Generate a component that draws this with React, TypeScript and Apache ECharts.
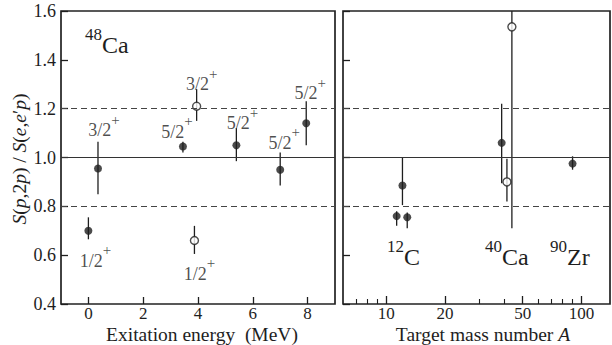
import React, { useEffect, useRef } from "react";
import * as echarts from "echarts";

// ---- axis ticks ----
const yTicks = [0.4, 0.6, 0.8, 1.0, 1.2, 1.4, 1.6];
const energyTicks = [0, 2, 4, 6, 8];
const massMajorTicks = [10, 20, 50, 100];
const massMinorTicks = [7, 8, 9, 30, 40, 60, 70, 80, 90];
const refLines = [1.0, 1.2, 0.8];

// ---- left panel: 48Ca, vs excitation energy (MeV) ----
const leftFilledE = [0, 0.35, 3.45, 5.4, 7.0, 7.95];
const leftFilledS = [0.7, 0.955, 1.045, 1.05, 0.95, 1.14];
const leftFilledLo = [0.665, 0.85, 1.02, 0.985, 0.885, 1.05];
const leftFilledHi = [0.755, 1.065, 1.065, 1.12, 1.02, 1.23];
const leftFilledJ = ["1/2", "3/2", "5/2", "5/2", "5/2", "5/2"];

const leftOpenE = [3.95, 3.87];
const leftOpenS = [1.21, 0.66];
const leftOpenLo = [1.15, 0.605];
const leftOpenHi = [1.28, 0.72];
const leftOpenJ = ["3/2", "1/2"];

// ---- right panel: vs target mass number A ----
const rightFilledA = [11.3, 12.1, 12.8, 39, 90];
const rightFilledS = [0.76, 0.885, 0.755, 1.06, 0.975];
const rightFilledLo = [0.72, 0.805, 0.71, 0.895, 0.95];
const rightFilledHi = [0.78, 1.0, 0.775, 1.22, 1.005];

const rightOpenA = [41.5, 44];
const rightOpenS = [0.9, 1.535];
const rightOpenLo = [0.82, 0.71];
const rightOpenHi = [0.995, 1.75];

const nuclei = [
  { mass: "48", el: "Ca" },
  { mass: "12", el: "C" },
  { mass: "40", el: "Ca" },
  { mass: "90", el: "Zr" },
];

const Y_MIN = 0.4;
const Y_MAX = 1.6;
const FONT = "'Liberation Serif', 'DejaVu Serif', serif";
const INK = "#1e1e1e";

export default function App() {
  const ref = useRef<HTMLDivElement>(null);

  useEffect(() => {
    if (!ref.current) return;
    const chart = echarts.init(ref.current, undefined, { renderer: "svg" });

    const errRender = (_p: any, api: any) => {
      const x = api.value(0);
      const lo = Math.max(api.value(1), Y_MIN);
      const hi = Math.min(api.value(2), Y_MAX);
      const a = api.coord([x, lo]);
      const b = api.coord([x, hi]);
      return {
        type: "line",
        shape: { x1: a[0], y1: a[1], x2: b[0], y2: b[1] },
        style: { stroke: INK, lineWidth: 1.3 },
      };
    };

    const supRich = {
      a: { fontSize: 18, fontFamily: FONT, color: INK, lineHeight: 36 },
      s: { fontSize: 15, fontFamily: FONT, color: INK, lineHeight: 15, verticalAlign: "top" },
    };

    // label offsets (layout), in order of the data arrays
    const filledOffsets = [
      [7, 30],
      [6, -38],
      [-6, -15],
      [6, -22],
      [4, -27],
      [4, -30],
    ];
    const openOffsets = [
      [5, -22],
      [5, 33],
    ];

    const mkLabeled = (xs: number[], ys: number[], js: string[], offs: number[][]) =>
      xs.map((x, i) => ({
        value: [x, ys[i]],
        label: {
          show: true,
          position: "inside",
          offset: offs[i],
          color: INK,
          fontFamily: FONT,
          textBorderWidth: 0,
          formatter: `{a|${js[i]}}{s|+}`,
          rich: supRich,
        },
      }));

    const markLine = {
      silent: true,
      symbol: "none",
      label: { show: false },
      data: refLines.map((v) => ({
        yAxis: v,
        lineStyle: {
          type: v === 1.0 ? "solid" : [6, 4],
          color: v === 1.0 ? "#333" : "#444",
          width: 1,
        },
      })),
    };

    const baseAxisLabel = { fontSize: 18, fontFamily: FONT, color: INK };

    const yAxisBase = (gi: number, showLabel: boolean) => ({
      gridIndex: gi,
      type: "value",
      min: Y_MIN,
      max: Y_MAX,
      interval: 0.2,
      axisLine: { show: false, onZero: false },
      axisTick: { show: true, inside: true, length: 7, lineStyle: { color: INK, width: 1.3 } },
      axisLabel: {
        ...baseAxisLabel,
        show: showLabel,
        margin: 5,
        lineHeight: 16,
        customValues: yTicks,
        formatter: (v: number) => v.toFixed(1),
      },
      splitLine: { show: false },
    });

    const nucleusText = (i: number, x: number, y: number) => ({
      type: "text",
      x,
      y,
      style: {
        text: `{s|${nuclei[i].mass}}{m|${nuclei[i].el}}`,
        align: "left",
        verticalAlign: "middle",
        rich: {
          s: { fontSize: 17, fontFamily: FONT, fill: INK, lineHeight: 17, verticalAlign: "top" },
          m: { fontSize: 24, fontFamily: FONT, fill: INK, lineHeight: 38 },
        },
      },
    });

    const xLabel = { ...baseAxisLabel, fontSize: 17, margin: 2, lineHeight: 14 };

    const option: any = {
      animation: false,
      backgroundColor: "#fff",
      grid: [
        { left: 61, top: 11, width: 274, height: 293, show: true, borderColor: "#222", borderWidth: 1.7 },
        { left: 343, top: 11, width: 267, height: 293, show: true, borderColor: "#222", borderWidth: 1.7 },
      ],
      xAxis: [
        {
          gridIndex: 0,
          type: "value",
          min: -1,
          max: 9,
          axisLine: { show: false, onZero: false },
          axisTick: { show: true, inside: true, length: 7, customValues: energyTicks, lineStyle: { color: INK, width: 1.3 } },
          axisLabel: { ...xLabel, customValues: energyTicks },
          splitLine: { show: false },
        },
        {
          gridIndex: 1,
          type: "log",
          logBase: 10,
          min: 6,
          max: 140,
          axisLine: { show: false, onZero: false },
          axisTick: { show: true, inside: true, length: 8, customValues: massMajorTicks, lineStyle: { color: INK, width: 1.3 } },
          axisLabel: { ...xLabel, customValues: massMajorTicks },
          splitLine: { show: false },
        },
        {
          gridIndex: 1,
          type: "log",
          logBase: 10,
          min: 6,
          max: 140,
          position: "bottom",
          axisLine: { show: false, onZero: false },
          axisTick: { show: true, inside: true, length: 5, customValues: massMinorTicks, lineStyle: { color: INK, width: 1.1 } },
          axisLabel: { show: false },
          splitLine: { show: false },
        },
      ],
      yAxis: [yAxisBase(0, true), yAxisBase(1, false)],
      series: [
        {
          type: "custom",
          xAxisIndex: 0,
          yAxisIndex: 0,
          renderItem: errRender,
          encode: { x: 0, y: [1, 2] },
          data: [
            ...leftFilledE.map((e, i) => [e, leftFilledLo[i], leftFilledHi[i]]),
            ...leftOpenE.map((e, i) => [e, leftOpenLo[i], leftOpenHi[i]]),
          ],
          z: 2,
          markLine,
        },
        {
          type: "scatter",
          xAxisIndex: 0,
          yAxisIndex: 0,
          symbol: "circle",
          symbolSize: 8,
          itemStyle: { color: INK },
          data: mkLabeled(leftFilledE, leftFilledS, leftFilledJ, filledOffsets),
          z: 3,
        },
        {
          type: "scatter",
          xAxisIndex: 0,
          yAxisIndex: 0,
          symbol: "circle",
          symbolSize: 8,
          itemStyle: { color: "#fff", borderColor: INK, borderWidth: 1.4 },
          data: mkLabeled(leftOpenE, leftOpenS, leftOpenJ, openOffsets),
          z: 3,
        },
        {
          type: "custom",
          xAxisIndex: 1,
          yAxisIndex: 1,
          renderItem: errRender,
          encode: { x: 0, y: [1, 2] },
          data: [
            ...rightFilledA.map((a, i) => [a, rightFilledLo[i], rightFilledHi[i]]),
            ...rightOpenA.map((a, i) => [a, rightOpenLo[i], rightOpenHi[i]]),
          ],
          z: 2,
          markLine,
        },
        {
          type: "scatter",
          xAxisIndex: 1,
          yAxisIndex: 1,
          symbol: "circle",
          symbolSize: 8,
          itemStyle: { color: INK },
          data: rightFilledA.map((a, i) => [a, rightFilledS[i]]),
          z: 3,
        },
        {
          type: "scatter",
          xAxisIndex: 1,
          yAxisIndex: 1,
          symbol: "circle",
          symbolSize: 8,
          itemStyle: { color: "#fff", borderColor: INK, borderWidth: 1.4 },
          data: rightOpenA.map((a, i) => [a, rightOpenS[i]]),
          z: 3,
        },
      ],
      graphic: [
        nucleusText(0, 85, 45),
        nucleusText(1, 387, 257),
        nucleusText(2, 485, 257),
        nucleusText(3, 550, 257),
        {
          type: "text",
          x: 202,
          y: 334,
          style: {
            text: "{n|Exitation energy \u00a0(MeV)}",
            align: "center",
            verticalAlign: "middle",
            rich: {
              n: { fontSize: 19.5, fontFamily: FONT, fill: INK, lineHeight: 16 },
            },
          },
        },
        {
          type: "text",
          x: 483,
          y: 334,
          style: {
            text: "{n|Target mass number }{i|A}",
            align: "center",
            verticalAlign: "middle",
            rich: {
              n: { fontSize: 19.5, fontFamily: FONT, fill: INK, lineHeight: 16 },
              i: { fontSize: 19.5, fontFamily: FONT, fill: INK, fontStyle: "italic", lineHeight: 16 },
            },
          },
        },
        {
          type: "text",
          x: 19,
          y: 159,
          rotation: Math.PI / 2,
          style: {
            text: "{i|S}{n|(}{i|p}{n|,2}{i|p}{n|) / }{i|S}{n|(}{i|e}{n|,}{i|e}{n|′}{i|p}{n|)}",
            align: "center",
            verticalAlign: "middle",
            rich: {
              n: { fontSize: 19.5, fontFamily: FONT, fill: INK },
              i: { fontSize: 19.5, fontFamily: FONT, fill: INK, fontStyle: "italic" },
            },
          },
        },
      ],
    };

    chart.setOption(option);
    return () => chart.dispose();
  }, []);

  return <div ref={ref} style={{ width: 612, height: 345, position: "absolute", left: 0, top: 0 }} />;
}
